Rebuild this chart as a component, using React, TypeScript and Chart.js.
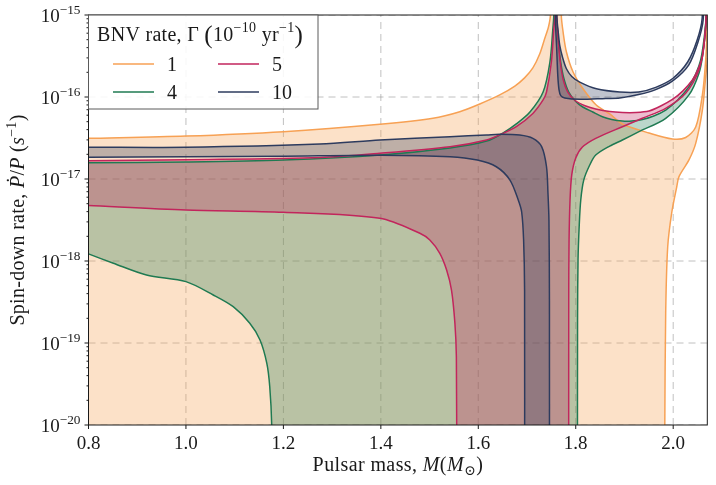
import React, { useEffect, useRef } from 'react';
import { Chart, registerables } from 'chart.js';

Chart.register(...registerables);

type Pt = [number, number];

const massTicks = [0.8, 1.0, 1.2, 1.4, 1.6, 1.8, 2.0];
const rateExponents = [-20, -19, -18, -17, -16, -15];
const gammaLabels = ['1', '4', '5', '10'];
const lineColors = ['#f7a154', '#1f7a52', '#c2255c', '#2d3b5e'];
const fillColors = ['rgba(247,161,84,0.32)', 'rgba(31,122,82,0.3)', 'rgba(194,37,92,0.3)', 'rgba(45,59,94,0.3)'];

// Gamma = 1
const g1UpperLeft: Pt[] = [[0.8, 3.13e-17], [1.0, 3.34e-17], [1.2, 3.78e-17], [1.398, 4.65e-17], [1.507, 5.5e-17], [1.562, 6.62e-17], [1.603, 8.22e-17], [1.644, 1.06e-16], [1.675, 1.36e-16], [1.695, 1.71e-16], [1.712, 2.26e-16], [1.726, 3.34e-16], [1.736, 5.09e-16], [1.744, 7.14e-16], [1.748, 1e-15], [1.749, 1e-14]];
const g1UpperRight: Pt[] = [[1.768, 1e-14], [1.7703, 1e-15], [1.774, 6.21e-16], [1.7809, 3.54e-16], [1.7945, 2.02e-16], [1.815, 1.26e-16], [1.842, 7.98e-17], [1.8697, 6.21e-17], [1.8958, 4.69e-17], [1.9503, 3.64e-17], [1.9984, 3.08e-17], [2.0256, 3.21e-17], [2.0462, 4.3e-17], [2.0599, 1.06e-16], [2.0667, 2.83e-16], [2.0692, 6.56e-16], [2.072, 1e-14]];
const g1LowerRight: Pt[] = [[1.9826, 1e-21], [1.9828, 1e-20], [1.9846, 2.32e-19], [1.9887, 1.48e-18], [1.9969, 3.85e-18], [2.0072, 7.98e-18], [2.0119, 1.07e-17], [2.0324, 1.71e-17], [2.0462, 2.72e-17], [2.0599, 6.93e-17], [2.0667, 1.77e-16], [2.0705, 3e-16]];

// Gamma = 4
const g4UpperLeft: Pt[] = [[0.8, 1.58e-17], [1.0, 1.61e-17], [1.2, 1.7e-17], [1.4, 1.96e-17], [1.542, 2.39e-17], [1.617, 2.9e-17], [1.651, 3.64e-17], [1.678, 4.69e-17], [1.706, 6.56e-17], [1.733, 1.15e-16], [1.747, 2.67e-16], [1.753, 6.8e-16], [1.755, 1e-15], [1.756, 1e-14]];
const g4LowerLeft: Pt[] = [[0.8, 1.22e-18], [0.851, 9.4e-19], [0.919, 6.75e-19], [1.0, 5.6e-19], [1.056, 3.85e-19], [1.097, 2.77e-19], [1.131, 1.74e-19], [1.152, 1.09e-19], [1.166, 5.65e-20], [1.172, 2.93e-20], [1.176, 1e-20], [1.177, 1e-21]];
const g4UpperRight: Pt[] = [[1.7595, 1e-14], [1.7606, 1e-15], [1.7641, 4.95e-16], [1.7692, 2.67e-16], [1.7754, 1.71e-16], [1.7856, 1.15e-16], [1.8, 8.81e-17], [1.8144, 7.55e-17], [1.8349, 6.56e-17], [1.8548, 5.75e-17], [1.8738, 5.32e-17], [1.8958, 5.1e-17], [1.9149, 5.1e-17], [1.9368, 5.32e-17], [1.96, 5.86e-17], [1.9846, 6.93e-17], [2.0092, 9.18e-17], [2.0324, 1.34e-16], [2.0462, 1.9e-16], [2.0564, 2.83e-16], [2.0636, 5.25e-16], [2.0677, 1e-15], [2.069, 1e-14]];
const g4LowerRight: Pt[] = [[1.8035, 1e-21], [1.8037, 1.9e-19], [1.8047, 1.03e-18], [1.8072, 2.75e-18], [1.8103, 5.55e-18], [1.8164, 9.7e-18], [1.8287, 1.48e-17], [1.841, 1.96e-17], [1.8697, 2.52e-17], [1.8958, 2.99e-17], [1.9298, 3.78e-17], [1.9846, 5.5e-17], [2.0324, 1.06e-16], [2.0529, 1.95e-16], [2.0605, 3.25e-16], [2.0667, 7.55e-16], [2.071, 1e-14]];

// Gamma = 5
const g5UpperLeft: Pt[] = [[0.8, 1.67e-17], [1.0, 1.72e-17], [1.275, 1.83e-17], [1.398, 2.06e-17], [1.542, 2.48e-17], [1.617, 2.99e-17], [1.651, 3.6e-17], [1.678, 4.34e-17], [1.712, 6.3e-17], [1.733, 9.2e-17], [1.74, 1.15e-16], [1.75, 2.67e-16], [1.755, 6.8e-16], [1.7575, 1e-15], [1.758, 1e-14]];
const g5LowerLeft: Pt[] = [[0.8, 4.75e-18], [1.0, 4.19e-18], [1.2, 3.93e-18], [1.398, 3.32e-18], [1.48, 2.18e-18], [1.5005, 1.8e-18], [1.521, 1.24e-18], [1.535, 7.76e-19], [1.545, 4.42e-19], [1.552, 1.74e-19], [1.555, 6.8e-20], [1.556, 1e-21]];
const g5UpperRight: Pt[] = [[1.7605, 1e-14], [1.761, 1e-15], [1.7641, 4.95e-16], [1.7682, 2.67e-16], [1.7744, 1.61e-16], [1.7836, 1.15e-16], [1.8, 8.93e-17], [1.8205, 7.76e-17], [1.841, 7.14e-17], [1.8697, 6.65e-17], [1.8958, 6.47e-17], [1.9231, 6.47e-17], [1.9503, 6.75e-17], [1.9744, 7.76e-17], [1.9984, 9.33e-17], [2.0195, 1.18e-16], [2.0394, 1.61e-16], [2.0503, 2.13e-16], [2.0599, 3.08e-16], [2.0656, 6.03e-16], [2.0681, 1e-15], [2.0695, 1e-14]];
const g5LowerRight: Pt[] = [[1.7856, 1e-21], [1.7856, 3.34e-19], [1.7863, 1.8e-18], [1.7883, 5.55e-18], [1.7918, 1.12e-17], [1.8, 1.8e-17], [1.8137, 2.45e-17], [1.841, 3.13e-17], [1.8958, 4.34e-17], [1.9368, 5.5e-17], [1.9846, 7.28e-17], [2.0256, 1.11e-16], [2.0529, 2.13e-16], [2.0631, 4.3e-16], [2.0672, 8.7e-16], [2.07, 1e-14]];

// Gamma = 10
const g10UpperLeft: Pt[] = [[0.8, 2.44e-17], [1.0, 2.44e-17], [1.275, 2.67e-17], [1.398, 2.99e-17], [1.542, 3.28e-17], [1.617, 3.44e-17], [1.644, 3.51e-17], [1.685, 3.44e-17], [1.712, 3.13e-17], [1.73, 2.48e-17], [1.74, 1.41e-17], [1.743, 6.7e-18], [1.745, 3.16e-18], [1.746, 3.3e-19], [1.746, 1e-21]];
const g10LowerLeft: Pt[] = [[0.8, 1.84e-17], [1.0, 1.87e-17], [1.2, 1.9e-17], [1.4, 1.95e-17], [1.542, 1.87e-17], [1.598, 1.7e-17], [1.637, 1.41e-17], [1.665, 9.7e-18], [1.682, 5.55e-18], [1.689, 3.96e-18], [1.693, 1.8e-18], [1.695, 4.4e-19], [1.695, 1e-21]];
const g10RightOuter: Pt[] = [[1.759, 1e-14], [1.758, 1e-15], [1.761, 3.74e-16], [1.7631, 1.85e-16], [1.7657, 1.22e-16], [1.7692, 1.04e-16], [1.7774, 9.72e-17], [1.8082, 9.37e-17], [1.8615, 9.6e-17], [1.8903, 9.72e-17], [1.9292, 1.07e-16], [1.9641, 1.23e-16], [1.999, 1.57e-16], [2.0318, 2.45e-16], [2.0503, 4.56e-16], [2.0615, 8.7e-16], [2.066, 1e-14]];
const g10RightInner: Pt[] = [[1.7605, 1e-14], [1.761, 1e-15], [1.7641, 6.21e-16], [1.7672, 4.27e-16], [1.7733, 2.99e-16], [1.7809, 2.21e-16], [1.7918, 1.78e-16], [1.8082, 1.52e-16], [1.8425, 1.26e-16], [1.8903, 1.15e-16], [1.9292, 1.15e-16], [1.9641, 1.31e-16], [1.999, 1.68e-16], [2.0297, 2.67e-16], [2.0492, 4.95e-16], [2.0595, 9.2e-16], [2.064, 1e-14]];

const rev = (pts: Pt[]): Pt[] => [...pts].reverse();
const toXY = (pts: Pt[]) => pts.map(([x, y]) => ({ x, y }));
// repeat the ends of every piece so the spline of each piece is the same as its own line
const joinPieces = (...pieces: Pt[][]): Pt[] => pieces.flatMap((p) => [p[0], ...p, p[p.length - 1]]);

const curves: { pts: Pt[]; g: number }[] = [
  { pts: g1UpperLeft, g: 0 }, { pts: g1UpperRight, g: 0 }, { pts: g1LowerRight, g: 0 },
  { pts: g4UpperLeft, g: 1 }, { pts: g4LowerLeft, g: 1 }, { pts: g4UpperRight, g: 1 }, { pts: g4LowerRight, g: 1 },
  { pts: g5UpperLeft, g: 2 }, { pts: g5LowerLeft, g: 2 }, { pts: g5UpperRight, g: 2 }, { pts: g5LowerRight, g: 2 },
  { pts: g10UpperLeft, g: 3 }, { pts: g10LowerLeft, g: 3 }, { pts: g10RightOuter, g: 3 }, { pts: g10RightInner, g: 3 },
];

const regions: { pts: Pt[]; g: number }[] = [
  { pts: joinPieces([[massTicks[0], 1e-21]], g1UpperLeft, g1UpperRight, rev(g1LowerRight)), g: 0 },
  { pts: joinPieces(g4LowerLeft, g4LowerRight, rev(g4UpperRight), rev(g4UpperLeft)), g: 1 },
  { pts: joinPieces(g5LowerLeft, g5LowerRight, rev(g5UpperRight), rev(g5UpperLeft)), g: 2 },
  { pts: joinPieces(g10LowerLeft, rev(g10UpperLeft)), g: 3 },
  { pts: joinPieces(g10RightOuter, rev(g10RightInner)), g: 3 },
];

const SERIF = "'Liberation Serif', 'DejaVu Serif', serif";
const FS = 19;
const TS = 20;

type Run = { t: string; it?: boolean; sup?: boolean; sub?: boolean; big?: boolean };

const runFont = (r: Run, size: number) => {
  const s = r.sup || r.sub ? size * 0.7 : r.big ? size * 1.25 : size;
  return `${r.it ? 'italic ' : ''}${s}px ${SERIF}`;
};

const runsWidth = (ctx: CanvasRenderingContext2D, runs: Run[], size: number) =>
  runs.reduce((w, r) => {
    ctx.font = runFont(r, size);
    return w + ctx.measureText(r.t).width;
  }, 0);

const drawRuns = (ctx: CanvasRenderingContext2D, runs: Run[], x: number, y: number, size: number, align: 'left' | 'center' | 'right', spacing = 0) => {
  (ctx as any).letterSpacing = `${spacing}px`;
  const w = runsWidth(ctx, runs, size);
  let cx = align === 'left' ? x : align === 'center' ? x - w / 2 : x - w;
  ctx.textAlign = 'left';
  ctx.textBaseline = 'alphabetic';
  for (const r of runs) {
    ctx.font = runFont(r, size);
    const dy = r.sup ? -size * 0.42 : r.sub ? size * 0.22 : r.big ? size * 0.1 : 0;
    ctx.fillText(r.t, cx, y + dy);
    cx += ctx.measureText(r.t).width;
  }
  (ctx as any).letterSpacing = '0px';
};

const axesDecor = {
  id: 'axesDecor',
  beforeDatasetsDraw(chart: any) {
    const { ctx, chartArea: a, scales } = chart;
    ctx.save();
    ctx.beginPath();
    ctx.rect(a.left, a.top, a.right - a.left, a.bottom - a.top);
    ctx.clip();
    ctx.strokeStyle = 'rgba(150,150,150,0.6)';
    ctx.lineWidth = 1;
    ctx.setLineDash([7, 5]);
    for (const m of massTicks) {
      const x = scales.x.getPixelForValue(m);
      ctx.beginPath();
      ctx.moveTo(x, a.bottom);
      ctx.lineTo(x, a.top);
      ctx.stroke();
    }
    for (const e of rateExponents) {
      const y = scales.y.getPixelForValue(Math.pow(10, e));
      ctx.beginPath();
      ctx.moveTo(a.left, y);
      ctx.lineTo(a.right, y);
      ctx.stroke();
    }
    ctx.restore();
  },
  afterDraw(chart: any) {
    const { ctx, chartArea: a, scales } = chart;
    ctx.save();
    ctx.strokeStyle = '#1a1a1a';
    ctx.fillStyle = '#1a1a1a';
    ctx.lineWidth = 1;
    ctx.setLineDash([]);

    // ticks
    ctx.beginPath();
    for (const m of massTicks) {
      const x = scales.x.getPixelForValue(m);
      ctx.moveTo(x, a.bottom);
      ctx.lineTo(x, a.bottom + 4);
    }
    for (const e of rateExponents) {
      const y = scales.y.getPixelForValue(Math.pow(10, e));
      ctx.moveTo(a.left, y);
      ctx.lineTo(a.left - 4, y);
      if (e < rateExponents[rateExponents.length - 1]) {
        for (let k = 2; k <= 9; k++) {
          const ym = scales.y.getPixelForValue(k * Math.pow(10, e));
          ctx.moveTo(a.left, ym);
          ctx.lineTo(a.left - 2, ym);
        }
      }
    }
    ctx.stroke();

    // tick labels
    for (const m of massTicks) {
      drawRuns(ctx, [{ t: m.toFixed(1) }], scales.x.getPixelForValue(m), a.bottom + 24, FS, 'center');
    }
    for (const e of rateExponents) {
      const y = scales.y.getPixelForValue(Math.pow(10, e));
      drawRuns(ctx, [{ t: '10' }, { t: '\u2212' + Math.abs(e), sup: true }], a.left - 8, y + 6.5, FS, 'right');
    }

    // axis titles
    drawRuns(ctx, [{ t: 'Pulsar mass, ' }, { t: 'M', it: true }, { t: '(' }, { t: 'M', it: true }, { t: '\u2299', sub: true }, { t: ')' }],
      (a.left + a.right) / 2, a.bottom + 46, TS, 'center', 0.4);
    ctx.save();
    ctx.translate(24, (a.top + a.bottom) / 2);
    ctx.rotate(-Math.PI / 2);
    drawRuns(ctx, [{ t: 'Spin-down rate, ' }, { t: '\u1E56', it: true }, { t: '/' }, { t: 'P', it: true }, { t: ' (' }, { t: 's', it: true }, { t: '\u22121', sup: true }, { t: ')' }],
      0, 0, TS, 'center', 0.3);
    ctx.restore();

    // frame
    ctx.strokeRect(a.left, a.top, a.right - a.left, a.bottom - a.top);

    // legend
    const lx = a.left, ly = a.top;
    ctx.fillStyle = 'rgba(255,255,255,0.88)';
    ctx.fillRect(lx, ly, 229.5, 94);
    ctx.strokeStyle = '#5a5a5a';
    ctx.strokeRect(lx, ly, 229.5, 94);
    ctx.fillStyle = '#1a1a1a';
    drawRuns(ctx, [{ t: 'BNV rate, \u0393 ' }, { t: '(', big: true }, { t: '10' }, { t: '\u221210', sup: true }, { t: ' yr' }, { t: '\u22121', sup: true }, { t: ')', big: true }],
      lx + 8.5, ly + 25.5, TS, 'left', 0.3);
    gammaLabels.forEach((lab, i) => {
      const col = Math.floor(i / 2);
      const row = i % 2;
      const x0 = lx + 24.5 + col * 105;
      const y0 = ly + 49 + row * 28;
      ctx.strokeStyle = lineColors[i];
      ctx.lineWidth = 1.6;
      ctx.beginPath();
      ctx.moveTo(x0, y0);
      ctx.lineTo(x0 + 41, y0);
      ctx.stroke();
      ctx.fillStyle = '#1a1a1a';
      drawRuns(ctx, [{ t: lab }], x0 + 54, y0 + 7, TS, 'left');
    });
    ctx.restore();
  },
};

export default function App() {
  const canvasRef = useRef<HTMLCanvasElement | null>(null);

  useEffect(() => {
    const canvas = canvasRef.current;
    if (!canvas) return;

    const fillSets = regions.map((r) => ({
      data: toXY(r.pts),
      backgroundColor: fillColors[r.g],
      borderColor: 'transparent',
      borderWidth: 0,
      pointRadius: 0,
      fill: 'shape',
      tension: 0.3,
      order: 10 - r.g,
    }));
    const lineSets = curves.map((c) => ({
      data: toXY(c.pts),
      borderColor: lineColors[c.g],
      borderWidth: 1.5,
      pointRadius: 0,
      fill: false,
      tension: 0.3,
      order: 4 - c.g,
    }));

    const chart = new Chart(canvas, {
      type: 'line',
      data: { datasets: [...lineSets, ...fillSets] as any },
      options: {
        animation: false,
        responsive: false,
        events: [],
        layout: { padding: { left: 88.5, top: 15, right: 8.7, bottom: 60 } },
        elements: { line: { capBezierPoints: false } as any },
        scales: {
          x: { type: 'linear', display: false, min: 0.8, max: 2.07 },
          y: { type: 'logarithmic', display: false, min: 1e-20, max: 1e-15 },
        },
        plugins: { legend: { display: false }, tooltip: { enabled: false } },
      },
      plugins: [axesDecor],
    });

    return () => {
      chart.destroy();
    };
  }, []);

  return (
    <div style={{ position: 'fixed', left: 0, top: 0, width: 716, height: 485, background: '#fff' }}>
      <canvas ref={canvasRef} width={716} height={485} />
    </div>
  );
}
